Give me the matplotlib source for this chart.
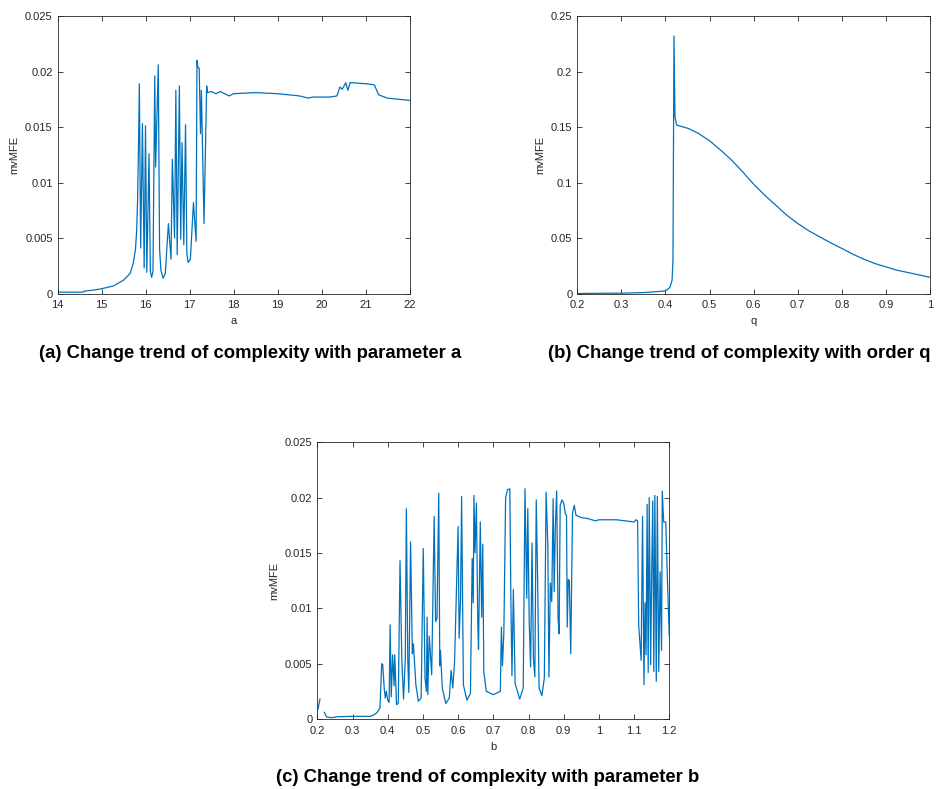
import numpy as np
import matplotlib
matplotlib.use("Agg")
import matplotlib.pyplot as plt
from matplotlib.ticker import FuncFormatter

plt.rcParams['font.family'] = ['Liberation Sans', 'DejaVu Sans']

LINE = '#0072BD'
TXT = '#262626'

# ---------------- (a) mvMFE vs parameter a ----------------
a_x = [14.0, 14.3, 14.58, 14.6, 14.8, 14.97, 15.27, 15.5, 15.65, 15.72, 15.77, 15.8, 15.82, 15.84, 15.86,
       15.89, 15.93, 15.97, 16.0, 16.03, 16.08, 16.11, 16.14, 16.17, 16.21, 16.23, 16.29,
       16.32, 16.35, 16.4, 16.45, 16.52, 16.58, 16.61, 16.66, 16.69, 16.72, 16.77, 16.80, 16.83,
       16.87, 16.91, 16.94, 16.97, 17.02, 17.09, 17.15, 17.17, 17.19, 17.22, 17.25, 17.27,
       17.33, 17.39, 17.41, 17.5, 17.6, 17.7, 17.8, 17.9, 18.0, 18.5, 19.0, 19.5, 19.7,
       19.8, 20.2, 20.35, 20.42, 20.47, 20.5, 20.55, 20.6, 20.65, 21.0, 21.2, 21.3, 21.5, 22.0]
a_y = [0.00012, 0.00012, 0.00012, 0.0002, 0.0003, 0.0004, 0.00068, 0.0012, 0.0018, 0.0027, 0.0039, 0.0057, 0.0084, 0.013, 0.0189,
       0.0041, 0.0153, 0.0023, 0.0151, 0.0019, 0.0126, 0.0020, 0.00146, 0.0020, 0.0196, 0.0114, 0.0206,
       0.0040, 0.0021, 0.00137, 0.0018, 0.0063, 0.0031, 0.0121, 0.0050, 0.0183, 0.0035, 0.0187, 0.0049, 0.0136,
       0.0044, 0.0152, 0.0036, 0.0028, 0.0031, 0.0082, 0.0047, 0.0210, 0.0204, 0.0203, 0.0144, 0.0183,
       0.0063, 0.0187, 0.0181, 0.0182, 0.0180, 0.0182, 0.0180, 0.0178, 0.0180, 0.0181, 0.0180, 0.0178, 0.0176,
       0.0177, 0.0177, 0.0178, 0.0186, 0.0184, 0.0186, 0.0190, 0.0183, 0.0190, 0.0189, 0.0188, 0.0179, 0.0176, 0.0174]

# ---------------- (b) mvMFE vs order q ----------------
q_x = [0.2, 0.25, 0.3, 0.35, 0.4, 0.41, 0.415, 0.417, 0.418, 0.4193, 0.4215, 0.4254, 0.4518, 0.475, 0.5,
       0.525, 0.55, 0.575, 0.6, 0.625, 0.65, 0.675, 0.7, 0.725, 0.75, 0.775, 0.8, 0.825, 0.85, 0.875,
       0.9, 0.925, 0.95, 1.0]
q_y = [0.0, 0.0002, 0.0003, 0.0008, 0.0023, 0.0054, 0.012, 0.03, 0.12, 0.232, 0.159, 0.1517, 0.1487, 0.1442, 0.1376,
       0.1292, 0.1202, 0.1096, 0.0985, 0.0886, 0.0796, 0.0706, 0.0631, 0.0565, 0.0510, 0.0456, 0.0406, 0.0354, 0.0309, 0.0270,
       0.0240, 0.0210, 0.0189, 0.0146]

# ---------------- (c) mvMFE vs parameter b ----------------
b_x = [0.202, 0.2076, 0.214, 0.22, 0.2265, 0.24, 0.255, 0.3, 0.35, 0.36, 0.37, 0.378, 0.383, 0.386,
       0.39, 0.393, 0.396, 0.4, 0.404, 0.407, 0.41, 0.414, 0.418, 0.42, 0.425, 0.43, 0.435, 0.44,
       0.445, 0.45, 0.453, 0.457, 0.46, 0.465, 0.47, 0.473, 0.48, 0.487, 0.495, 0.501, 0.506, 0.51,
       0.512, 0.514, 0.518, 0.525, 0.528, 0.532, 0.536, 0.54, 0.545, 0.548, 0.55, 0.555, 0.565,
       0.575, 0.58, 0.585, 0.59, 0.6, 0.603, 0.607, 0.61, 0.615, 0.625, 0.635, 0.64, 0.643, 0.645,
       0.648, 0.652, 0.656, 0.658, 0.663, 0.667, 0.67, 0.673, 0.68, 0.7, 0.72, 0.723, 0.726, 0.73,
       0.735, 0.74, 0.747, 0.75, 0.753, 0.757, 0.762, 0.775, 0.785, 0.79, 0.795, 0.798, 0.802,
       0.806, 0.81, 0.814, 0.818, 0.822, 0.826, 0.83, 0.838, 0.845, 0.85, 0.855, 0.858, 0.862,
       0.866, 0.87, 0.873, 0.876, 0.88, 0.884, 0.887, 0.89, 0.895, 0.9, 0.905, 0.908, 0.91, 0.913,
       0.916, 0.92, 0.925, 0.93, 0.935, 0.95, 0.97, 0.98, 0.99, 1.0, 1.05, 1.1, 1.105, 1.11, 1.113,
       1.12, 1.124, 1.128, 1.131, 1.134, 1.137, 1.14, 1.143, 1.147, 1.15, 1.153, 1.156, 1.159,
       1.163, 1.166, 1.17, 1.174, 1.178, 1.18, 1.184, 1.19, 1.195, 1.2]
b_y = [0.0009, 0.0018, np.nan, 0.0006, 0.00018, 0.00012, 0.0002, 0.00024, 0.00024, 0.00036, 0.0006, 0.001, 0.0050, 0.0049,
       0.0028, 0.0019, 0.0025, 0.0017, 0.0015, 0.0085, 0.0020, 0.0058, 0.0030, 0.0058, 0.0013, 0.0014, 0.0143, 0.0055,
       0.0018, 0.0055, 0.0190, 0.0055, 0.0024, 0.0160, 0.0059, 0.0068, 0.0031, 0.0016, 0.0019, 0.0154, 0.0037, 0.0025,
       0.0092, 0.0022, 0.0075, 0.0040, 0.0101, 0.0183, 0.0088, 0.0091, 0.0204, 0.0048, 0.0062, 0.0028, 0.0014,
       0.0019, 0.0044, 0.0028, 0.0052, 0.0174, 0.0073, 0.0109, 0.0201, 0.0031, 0.0017, 0.0023, 0.0145, 0.0105, 0.0202,
       0.0150, 0.0195, 0.0085, 0.0063, 0.0178, 0.0092, 0.0158, 0.0043, 0.0025, 0.0022, 0.0025, 0.0083, 0.0048, 0.0078,
       0.0200, 0.0207, 0.0208, 0.0106, 0.0039, 0.0117, 0.0032, 0.0018, 0.0028, 0.0208, 0.0109, 0.0190, 0.0088,
       0.0047, 0.0159, 0.0055, 0.0038, 0.0198, 0.0124, 0.0028, 0.0021, 0.0037, 0.0205, 0.0156, 0.0038, 0.0123,
       0.0106, 0.0199, 0.0115, 0.0171, 0.0206, 0.0091, 0.0077, 0.0193, 0.0198, 0.0195, 0.0185, 0.0184, 0.0083, 0.0126,
       0.0125, 0.0059, 0.0186, 0.0193, 0.0184, 0.0182, 0.0181, 0.0180, 0.0179, 0.0180, 0.0180, 0.0178, 0.0180, 0.0179, 0.0085,
       0.0053, 0.0183, 0.0031, 0.0105, 0.0058, 0.0194, 0.0042, 0.0200, 0.0049, 0.0133, 0.0197, 0.0043, 0.0202,
       0.0034, 0.0201, 0.0043, 0.0133, 0.0062, 0.0206, 0.0178, 0.0178, 0.0122, 0.0075]

a_ticks = [14, 15, 16, 17, 18, 19, 20, 21, 22]
q_ticks = [0.2, 0.3, 0.4, 0.5, 0.6, 0.7, 0.8, 0.9, 1.0]
b_ticks = [0.2, 0.3, 0.4, 0.5, 0.6, 0.7, 0.8, 0.9, 1.0, 1.1, 1.2]
small_yticks = [0, 0.005, 0.01, 0.015, 0.02, 0.025]
big_yticks = [0, 0.05, 0.1, 0.15, 0.2, 0.25]

captions = ["(a) Change trend of complexity with parameter a",
            "(b) Change trend of complexity with order q",
            "(c) Change trend of complexity with parameter b"]

W, H = 936, 789
fig = plt.figure(figsize=(W / 100, H / 100), dpi=100)


def px_axes(x0, y0, x1, y1):
    return fig.add_axes([x0 / W, 1 - y1 / H, (x1 - x0) / W, (y1 - y0) / H])


fmt = FuncFormatter(lambda v, p: ('%g' % round(v, 6)))


def style(ax, xt, yt, xlabel):
    ax.set_xticks(xt)
    ax.set_yticks(yt)
    ax.set_xlim(xt[0], xt[-1])
    ax.set_ylim(yt[0], yt[-1])
    ax.xaxis.set_major_formatter(fmt)
    ax.yaxis.set_major_formatter(fmt)
    ax.tick_params(direction='in', top=True, right=True, length=3.5, width=0.6,
                   labelsize=8, colors=TXT)
    ax.tick_params(axis='x', pad=5)
    ax.tick_params(axis='y', pad=3.5)
    for s in ax.spines.values():
        s.set_linewidth(0.6)
        s.set_color(TXT)
    ax.set_xlabel(xlabel, fontsize=8, color=TXT, labelpad=4)
    ax.set_ylabel('mvMFE', fontsize=8, color=TXT, labelpad=4)


axA = px_axes(57.5, 16, 409.5, 293.5)
axA.plot(a_x, a_y, color=LINE, lw=0.9)
style(axA, a_ticks, small_yticks, 'a')

axB = px_axes(577.3, 16, 930, 293.5)
axB.plot(q_x, q_y, color=LINE, lw=0.9)
style(axB, q_ticks, big_yticks, 'q')

axC = px_axes(317.3, 442.3, 669.3, 719)
axC.plot(b_x, b_y, color=LINE, lw=0.9)
style(axC, b_ticks, small_yticks, 'b')

fig.text(250 / W, 1 - 353 / H, captions[0], ha='center', va='center', fontsize=13.3, fontweight='bold')
fig.text(548 / W, 1 - 353 / H, captions[1], ha='left', va='center', fontsize=13.3, fontweight='bold')
fig.text(488 / W, 1 - 778 / H, captions[2], ha='center', va='center', fontsize=13.3, fontweight='bold')

fig.savefig('out.png', dpi=100)
